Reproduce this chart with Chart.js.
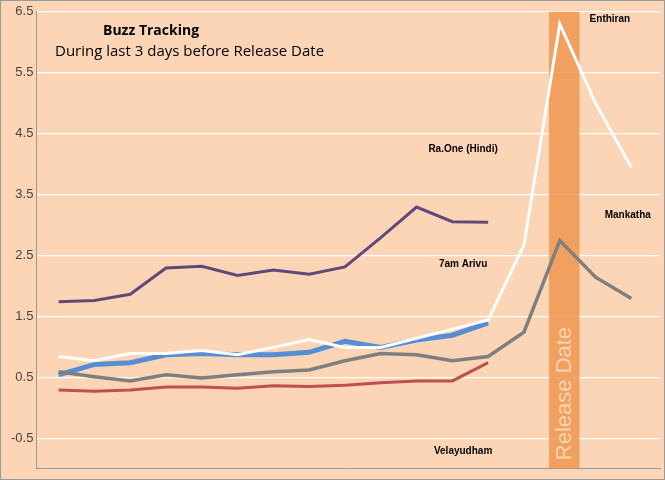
<!DOCTYPE html>
<html><head><meta charset="utf-8">
<script src="https://cdn.jsdelivr.net/npm/chart.js@4/dist/chart.umd.min.js"></script>
<style>
html,body{margin:0;padding:0;background:#fff;}
#wrap{position:absolute;left:0;top:0;width:663px;height:478px;border:1px solid #999;background:#FBD5B5;}
</style></head><body>
<div id="wrap"><canvas id="c" width="663" height="478"></canvas></div>
<script>
const categories = [0,1,2,3,4,5,6,7,8,9,10,11,12,13,14,15,16];
const raOne    = [1.75,1.77,1.87,2.3,2.33,2.18,2.27,2.2,2.32,2.8,3.3,3.06,3.05];
const arivu    = [0.55,0.72,0.75,0.88,0.9,0.88,0.88,0.92,1.1,1.0,1.12,1.2,1.4];
const enthiran = [0.85,0.78,0.9,0.9,0.95,0.88,1.0,1.13,1.0,1.0,1.15,1.3,1.45,2.68,6.3,5.0,3.95];
const mankatha = [0.6,0.52,0.45,0.55,0.5,0.55,0.6,0.63,0.78,0.9,0.88,0.78,0.85,1.25,2.75,2.15,1.8];
const velayudham = [0.3,0.28,0.3,0.35,0.35,0.33,0.37,0.36,0.38,0.42,0.45,0.45,0.75];
const yTicks = [-0.5,0.5,1.5,2.5,3.5,4.5,5.5,6.5];
const releaseBand = [13.7, 14.55];
const labels = [
  {text:'Enthiran', x:15.4, y:6.37},
  {text:'Ra.One (Hindi)', x:11.3, y:4.25},
  {text:'Mankatha', x:15.9, y:3.17},
  {text:'7am Arivu', x:11.3, y:2.37},
  {text:'Velayudham', x:11.3, y:-0.7}
];
const pts = a => a.map((v,i)=>({x:categories[i],y:v}));
const ds = (data,color,w)=>({data:pts(data),borderColor:color,borderWidth:w,pointRadius:0,tension:0,fill:false});

const deco = {
  id:'deco',
  beforeDatasetsDraw(ch){
    const c=ch.ctx,x=ch.scales.x,a=ch.chartArea;
    const x0=x.getPixelForValue(releaseBand[0]),x1=x.getPixelForValue(releaseBand[1]);
    c.save();
    c.fillStyle='rgba(240,150,80,0.85)';
    c.fillRect(x0,a.top,x1-x0,a.bottom-a.top);
    c.restore();
  },
  afterDatasetsDraw(ch){
    const c=ch.ctx,x=ch.scales.x,y=ch.scales.y,a=ch.chartArea;
    c.save();
    const xm=(x.getPixelForValue(releaseBand[0])+x.getPixelForValue(releaseBand[1]))/2;
    c.translate(xm+1,a.bottom-8);c.rotate(-Math.PI/2);
    c.fillStyle='#FBD5B5';c.font='22px "Liberation Sans", Arial';c.textBaseline='middle';
    c.fillText('Release Date',0,0);
    c.restore();
    c.save();
    c.fillStyle='#000';c.textAlign='center';c.textBaseline='middle';c.font='bold 10px "Liberation Sans", Arial';
    labels.forEach(l=>c.fillText(l.text,x.getPixelForValue(l.x),y.getPixelForValue(l.y)));
    c.textAlign='left';c.textBaseline='alphabetic';
    c.font='bold 14px "Open Sans", Arial';c.fillText('Buzz Tracking',102,34);
    c.font='15px "Open Sans", Arial';c.fillText('During last 3 days before Release Date',54,55);
    c.restore();
  }
};

new Chart(document.getElementById('c'),{
  type:'line',
  data:{datasets:[
    ds(raOne,'#60497A',3),
    ds(enthiran,'#FFFFFF',3),
    ds(mankatha,'#7F7F7F',3.5),
    ds(arivu,'#558ED5',5),
    ds(velayudham,'#C0504D',3)
  ]},
  options:{
    responsive:false,animation:false,
    layout:{padding:{top:8,right:4,bottom:0,left:7}},
    plugins:{legend:{display:false},tooltip:{enabled:false}},
    scales:{
      x:{type:'linear',min:-0.62,max:16.8,display:true,ticks:{display:false},grid:{display:false},border:{color:'#999'}},
      y:{min:-0.98,max:6.5,
        afterBuildTicks(s){s.ticks=yTicks.map(v=>({value:v}));},
        ticks:{color:'#444',font:{size:13,family:'"Liberation Sans", Arial'},callback:v=>String(v)},
        grid:{color:'#FFFFFF',lineWidth:1.2,drawTicks:false},border:{display:true,color:'#999'}}
    }
  },
  plugins:[deco]
});
</script></body></html>
